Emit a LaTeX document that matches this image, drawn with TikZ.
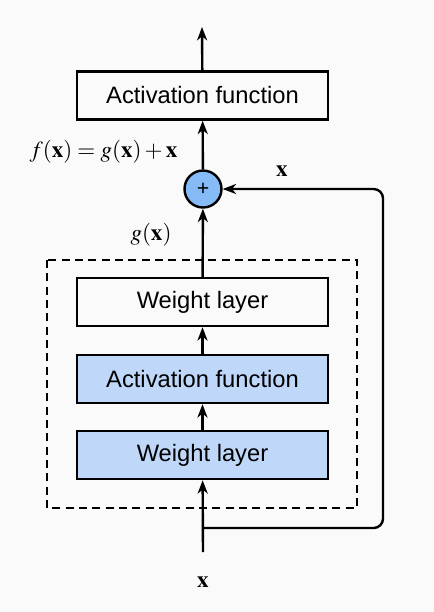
\documentclass[tikz,border=0pt]{standalone}
\usepackage{mathptmx}
\usepackage[no-math]{fontspec}
\setmainfont{Liberation Sans}
\usetikzlibrary{positioning,arrows.meta,calc}
\definecolor{bg}{HTML}{FAFAFA}
\definecolor{lay}{HTML}{BFD8FA}
\definecolor{sum}{HTML}{85BBF7}

\begin{document}
\begin{tikzpicture}[x=0.75pt, y=-0.75pt, line width=1.8pt,
  font=\fontsize{17.8}{20}\selectfont,
  box/.style={draw, minimum width=251*0.75pt, minimum height=48*0.75pt, inner sep=0pt},
  arr/.style={-{Stealth[length=10pt, width=7.5pt, inset=3pt]}},
  lbl/.style={font=\fontsize{17.3}{20}\selectfont}]
\fill[bg] (0,0) rectangle (434,612);
\useasboundingbox (0,0) rectangle (434,612);
% the residual block
\node[box] (top) at (202.5,95.5) {Activation function};
\node[draw, circle, fill=sum, minimum size=37*0.75pt, inner sep=0pt, font=\fontsize{16}{18}\selectfont] (add) at (203,189) {+};
\node[box] (wtwo) at (202.5,302) {Weight layer};
\node[box, fill=lay] (act) at (202.5,379) {Activation function};
\node[box, fill=lay] (wone) at (202.5,455) {Weight layer};
\draw[dashed, dash pattern=on 6pt off 4pt] (47,260) rectangle (357,508);
\coordinate (out) at (202,27);
\coordinate (in) at (203,552);
\coordinate (split) at (203,528);
\coordinate (turn) at (383,189);
% connectors
\draw[arr] (in) -- (wone);
\draw[arr] (wone) -- (act);
\draw[arr] (act) -- (wtwo);
\draw[arr] (wtwo) -- (add);
\draw[arr] (add) -- (top);
\draw[arr] (top) -- (out);
\draw[arr, rounded corners=7pt] (split) -| (turn) -- (add);
% labels
\node[lbl, anchor=east] (fx) at (183,152) {$f(\mathbf{x}) = g(\mathbf{x}) + \mathbf{x}$};
\node[lbl] (xr) at (282,171) {$\mathbf{x}$};
\node[lbl] (gx) at (151,235) {$g(\mathbf{x})$};
\node[lbl] (xin) at (203,582) {$\mathbf{x}$};
\end{tikzpicture}
\end{document}
